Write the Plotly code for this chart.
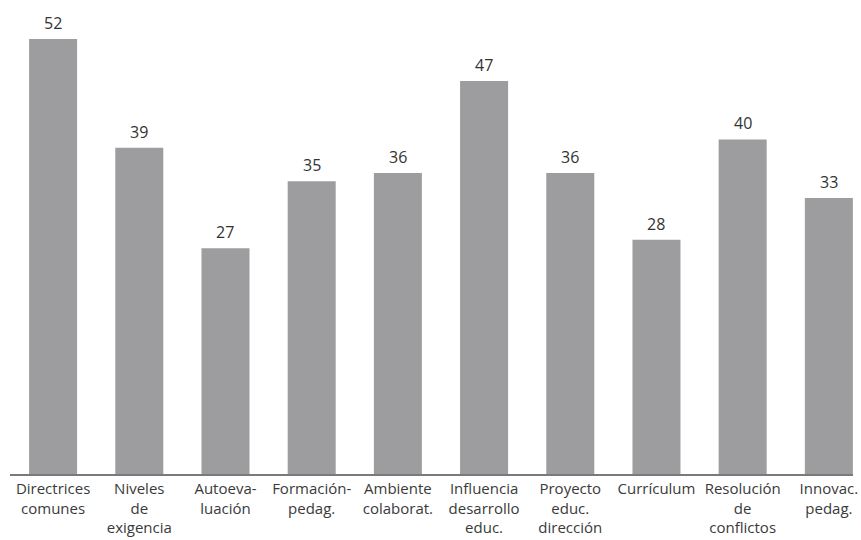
import plotly.graph_objects as go

categories = [
    "Directrices<br>comunes",
    "Niveles<br>de<br>exigencia",
    "Autoeva-<br>luación",
    "Formación-<br>pedag.",
    "Ambiente<br>colaborat.",
    "Influencia<br>desarrollo<br>educ.",
    "Proyecto<br>educ.<br>dirección",
    "Currículum",
    "Resolución<br>de<br>conflictos",
    "Innovac.<br>pedag.",
]
values = [52, 39, 27, 35, 36, 47, 36, 28, 40, 33]

xs = list(range(len(values)))

fig = go.Figure(go.Bar(
    x=xs, y=values, width=0.557,
    marker=dict(color="#9d9d9f", line=dict(width=0)),
    hoverinfo="skip",
))

for x, v in zip(xs, values):
    fig.add_annotation(x=x, y=v, text=str(v), showarrow=False,
                       yanchor="bottom", yshift=3,
                       font=dict(family="Open Sans", size=16, color="#333333"))

fig.update_layout(
    width=861, height=540,
    margin=dict(l=10, r=8, t=0, b=66, autoexpand=False),
    plot_bgcolor="white", paper_bgcolor="white",
    showlegend=False,
    font=dict(family="Open Sans", size=15, color="#3a3a3a"),
    xaxis=dict(range=[-0.5, 9.28], tickvals=xs, ticktext=categories,
               automargin=False,
               showgrid=False, zeroline=False, showline=True,
               linecolor="#7a7a7a", linewidth=2, ticks="", ticklen=0),
    yaxis=dict(range=[0, 56.67], visible=False, showgrid=False, zeroline=False,
               automargin=False),
)

fig.write_html("out.html", config={"displayModeBar": False},
               post_script="document.body.style.margin='0';document.body.style.overflow='hidden';")
